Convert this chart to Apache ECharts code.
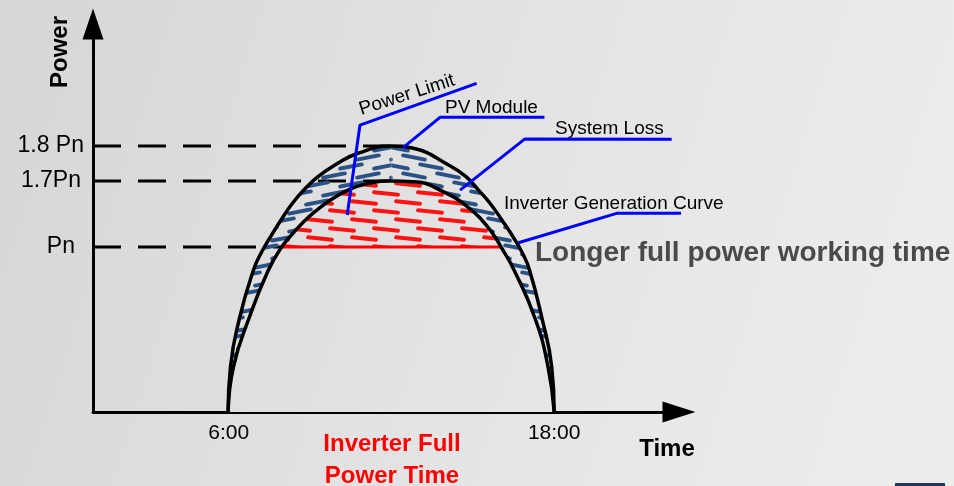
<!DOCTYPE html>
<html>
<head>
<meta charset="utf-8">
<script src="https://cdn.jsdelivr.net/npm/echarts@6/dist/echarts.min.js"></script>
<style>
html,body{margin:0;padding:0;background:#e2e2e2;}
#c{width:954px;height:486px;}
</style>
</head>
<body>
<div id="c"></div>
<script>
// ---- data (time in hours, power in diagram units where Pn = 1) ----
const outerT = [5.98, 6.068, 6.40, 6.916, 7.192, 7.543, 7.930, 8.353, 8.770, 9.293, 9.920, 10.768, 12.0,
                12.806, 14.103, 14.748, 15.209, 15.633, 16.068, 16.481, 16.831, 17.089, 17.550, 17.907, 18.0];
const outerH = [0, 0.275, 0.568, 0.861, 0.962, 1.062, 1.164, 1.265, 1.345, 1.426, 1.497, 1.568, 1.612,
                1.598, 1.497, 1.426, 1.345, 1.265, 1.164, 1.062, 0.962, 0.861, 0.568, 0.275, 0];
const innerT = [5.98, 6.179, 6.750, 7.450, 7.955, 8.353, 8.777, 9.256, 9.754, 10.362, 10.971, 12.0,
                12.806, 14.037, 14.774, 15.265, 15.755, 16.04, 16.518, 17.292, 17.771, 18.0];
const innerH = [0, 0.275, 0.568, 0.855, 1.0, 1.079, 1.155, 1.224, 1.285, 1.342, 1.379, 1.4,
                1.396, 1.325, 1.248, 1.176, 1.076, 1.0, 0.861, 0.568, 0.275, 0];
const peakT = 12;
const levelValues = [1.612, 1.4, 1.0];
const levelLabels = ['1.8 Pn', '1.7Pn', 'Pn'];
const levelLineEnds = [12, 12, 7.955];
const timeTicks = [6, 18];
const timeLabels = ['6:00', '18:00'];
const pnLevel = 1.0;
const fullPowerStart = 7.955;
const fullPowerEnd = 16.04;
const leaderPowerLimit = [[10.37, 1.194], [10.84, 1.739], [15.14, 1.992]];
const leaderPVModule = [[12.44, 1.604], [13.79, 1.786], [17.64, 1.786]];
const leaderSystemLoss = [[14.53, 1.345], [16.92, 1.655], [22.33, 1.653]];
const leaderInverter = [[16.68, 1.026], [20.3, 1.204], [24.81, 1.204]];

const xMin = 1, xMax = 22.6, yMin = 0, yMax = 2.3515;

// ---- helpers ----
const zip = (ts, hs) => ts.map((t, i) => [t, hs[i]]);
const outerPts = zip(outerT, outerH);
const innerPts = zip(innerT, innerH);
const outerLeft = outerPts.filter(p => p[0] <= peakT);
const outerRight = outerPts.filter(p => p[0] >= peakT);
const redPts = innerPts.filter(p => p[0] >= fullPowerStart && p[0] <= fullPowerEnd);

function hatch(color, w, h, rowGap, dash, angle, thick, offset, shift) {
  const c = document.createElement('canvas');
  c.width = w; c.height = h;
  const g = c.getContext('2d');
  g.strokeStyle = color; g.lineWidth = thick; g.lineCap = 'round';
  const a = angle * Math.PI / 180;
  const dx = Math.cos(a) * dash / 2, dy = Math.sin(a) * dash / 2;
  const rows = Math.round(h / rowGap);
  for (let r = 0; r < rows; r++) {
    const cy = rowGap / 2 + r * rowGap;
    const cx = ((r % 2) * offset + dash / 2 + (shift || 0)) % w;
    for (const ox of [-w, 0, w]) for (const oy of [-h, 0, h]) {
      g.beginPath();
      g.moveTo(cx - dx + ox, cy - dy + oy);
      g.lineTo(cx + dx + ox, cy + dy + oy);
      g.stroke();
    }
  }
  return { image: c, repeat: 'repeat' };
}
const blueC = '#2b5284';
const blueLeft = hatch(blueC, 34, 18, 9, 22, -11, 4, 17, 0);
const blueRight = hatch(blueC, 34, 18, 9, 22, 11, 4, 17, 12);
const redHatch = hatch('#ff1212', 44, 18, 9, 24, 6, 4, 22, 0);

const bgGrad = {
  type: 'linear', x: 0, y: 0, x2: 954, y2: 300, global: true,
  colorStops: [{ offset: 0, color: '#d6d6d6' }, { offset: 0.55, color: '#e4e4e4' }, { offset: 1, color: '#ededed' }]
};

const S = 0.5;
const dashed = (data, z) => ({
  type: 'line', data, showSymbol: false, silent: true, z: z || 1, clip: false,
  lineStyle: { color: '#000', width: 3, type: [28, 17] }
});
const leader = (data) => ({
  type: 'line', data, showSymbol: false, silent: true, z: 10, clip: false,
  lineStyle: { color: '#0000ff', width: 3 }
});

const series = [];
levelValues.forEach((v, i) => series.push(dashed([[xMin, v], [levelLineEnds[i], v]], 1)));
series.push(dashed([[fullPowerStart, pnLevel], [fullPowerStart, 0]], 1));
series.push(dashed([[fullPowerEnd, pnLevel], [fullPowerEnd, 0]], 1));
series.push({ type: 'line', data: outerLeft, smooth: S, showSymbol: false, silent: true, z: 2,
  lineStyle: { width: 0, opacity: 0 }, areaStyle: { color: blueLeft, opacity: 1 } });
series.push({ type: 'line', data: outerRight, smooth: S, showSymbol: false, silent: true, z: 2,
  lineStyle: { width: 0, opacity: 0 }, areaStyle: { color: blueRight, opacity: 1 } });
series.push({ type: 'line', data: innerPts, smooth: S, showSymbol: false, silent: true, z: 3,
  lineStyle: { width: 0, opacity: 0 }, areaStyle: { color: bgGrad, opacity: 1 } });
series.push({ type: 'line', data: redPts, smooth: S, showSymbol: false, silent: true, z: 4,
  lineStyle: { width: 0, opacity: 0 }, areaStyle: { color: redHatch, opacity: 1, origin: pnLevel } });
series.push({ type: 'line', data: [[fullPowerStart, pnLevel], [fullPowerEnd, pnLevel]], showSymbol: false, silent: true, z: 5,
  lineStyle: { color: '#ff0000', width: 3 } });
series.push({ type: 'line', data: outerPts, smooth: S, showSymbol: false, silent: true, z: 6,
  lineStyle: { color: '#000', width: 3.5 } });
series.push({ type: 'line', data: innerPts, smooth: S, showSymbol: false, silent: true, z: 6,
  lineStyle: { color: '#000', width: 3.5 } });
series.push(leader(leaderPowerLimit));
series.push(leader(leaderPVModule));
series.push(leader(leaderSystemLoss));
series.push(leader(leaderInverter));

const ff = '"Liberation Sans", Arial, sans-serif';
const txt = (text, x, y, font, fill, align, rot) => ({
  type: 'text', x, y, rotation: rot || 0, silent: true, z: 20,
  style: { text, font, fill, align: align || 'left', verticalAlign: 'middle' }
});

const chart = echarts.init(document.getElementById('c'), null, { renderer: 'canvas' });
chart.setOption({
  backgroundColor: bgGrad,
  animation: false,
  grid: { left: 93, right: 275, top: 24, bottom: 74, containLabel: false },
  xAxis: {
    type: 'value', min: xMin, max: xMax,
    axisLine: { show: true, symbol: ['none', 'triangle'], symbolSize: [21, 33], lineStyle: { color: '#000', width: 3 } },
    axisTick: { show: false }, splitLine: { show: false },
    axisLabel: {
      customValues: timeTicks, margin: 11, color: '#000', fontSize: 21, fontFamily: ff,
      formatter: v => timeLabels[timeTicks.indexOf(v)] || ''
    }
  },
  yAxis: {
    type: 'value', min: yMin, max: yMax,
    axisLine: { show: true, symbol: ['none', 'triangle'], symbolSize: [21, 31], lineStyle: { color: '#000', width: 3 } },
    axisTick: { show: false }, splitLine: { show: false },
    axisLabel: {
      customValues: levelValues, margin: 9, color: '#000', fontSize: 23, fontFamily: ff,
      formatter: v => {
        const i = levelValues.indexOf(v);
        return i < 0 ? '' : '{l' + i + '|' + levelLabels[i] + '}';
      },
      rich: {
        l0: { fontSize: 23, fontFamily: ff, color: '#000', padding: [0, 0, 0, 0] },
        l1: { fontSize: 23, fontFamily: ff, color: '#000', padding: [0, 3, 0, 0] },
        l2: { fontSize: 23, fontFamily: ff, color: '#000', padding: [0, 9, 0, 0] }
      }
    }
  },
  series,
  graphic: [
    txt('Power', 60, 52, 'bold 24px ' + ff, '#000', 'center', Math.PI / 2),
    txt('Time', 667, 449, 'bold 24px ' + ff, '#000', 'center'),
    txt('Power Limit', 407, 95, '19px ' + ff, '#000', 'center', 17.6 * Math.PI / 180),
    txt('PV Module', 445, 108, '19px ' + ff, '#000', 'left'),
    txt('System Loss', 555, 129, '19px ' + ff, '#000', 'left'),
    txt('Inverter Generation Curve', 504, 204, '19px ' + ff, '#000', 'left'),
    txt('Longer full power working time', 535, 253, 'bold 28px ' + ff, '#4a4a4a', 'left'),
    txt('Inverter Full', 392, 444, 'bold 24px ' + ff, '#ff0000', 'center'),
    txt('Power Time', 392, 476, 'bold 24px ' + ff, '#ff0000', 'center'),
    { type: 'rect', shape: { x: 895, y: 483, width: 50, height: 4 }, style: { fill: '#1f3864' }, silent: true, z: 20 }
  ]
});
</script>
</body>
</html>
